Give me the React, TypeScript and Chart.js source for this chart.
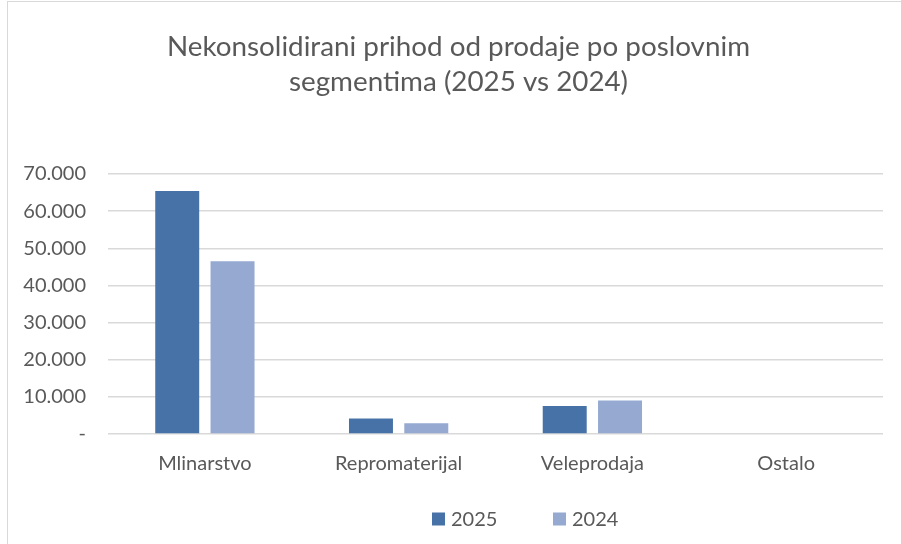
import React, { useEffect, useRef } from "react";
import { Chart, registerables } from "chart.js";

Chart.register(...registerables);

const categories = ["Mlinarstvo", "Repromaterijal", "Veleprodaja", "Ostalo"];
const series2025 = [65400, 4200, 7550, 0];
const series2024 = [46500, 2900, 9000, 0];
const seriesLabels = ["2025", "2024"];
const titleLines = ["Nekonsolidirani prihod od prodaje po poslovnim", "segmentima (2025 vs 2024)"];
const yTicks = [0, 10000, 20000, 30000, 40000, 50000, 60000, 70000];

const COLOR_2025 = "#4672A8";
const COLOR_2024 = "#95A9D1";
const TEXT = "#595959";
const FONT = "Lato, 'Open Sans', sans-serif";

function fmt(v: number): string {
  if (v === 0) return "-";
  return Math.round(v).toString().replace(/\B(?=(\d{3})+(?!\d))/g, ".");
}

const titlePlugin = {
  id: "customTitle",
  afterDraw(chart: any) {
    const ctx = chart.ctx;
    ctx.save();
    ctx.font = `27.8px ${FONT}`;
    ctx.textAlign = "center";
    ctx.textBaseline = "middle";
    ctx.fillStyle = TEXT;
    const cx = (16 + chart.width) / 2;
    titleLines.forEach((line, i) => ctx.fillText(line, cx, 47 + i * 35));
    ctx.restore();
  },
};

const legendPlugin = {
  id: "customLegend",
  afterDraw(chart: any) {
    const ctx = chart.ctx;
    const area = chart.chartArea;
    const ds = chart.data.datasets;
    ctx.save();
    ctx.font = `20px ${FONT}`;
    ctx.textBaseline = "middle";
    ctx.fillStyle = TEXT;
    const box = 13;
    const y = 519;
    let x = area.left + 324;
    ds.forEach((d: any) => {
      ctx.fillStyle = d.backgroundColor;
      ctx.fillRect(x, y - box / 2, box, box);
      ctx.fillStyle = TEXT;
      ctx.fillText(d.label, x + box + 6, y + 1);
      x += 121;
    });
    ctx.restore();
  },
};

export default function App() {
  const ref = useRef<HTMLCanvasElement | null>(null);
  useEffect(() => {
    if (!ref.current) return;
    const chart = new Chart(ref.current, {
      type: "bar",
      data: {
        labels: categories,
        datasets: [
          { label: seriesLabels[0], data: series2025, backgroundColor: COLOR_2025, barPercentage: 0.795, categoryPercentage: 0.571 },
          { label: seriesLabels[1], data: series2024, backgroundColor: COLOR_2024, barPercentage: 0.795, categoryPercentage: 0.571 },
        ],
      },
      plugins: [titlePlugin, legendPlugin],
      options: {
        animation: false,
        responsive: false,
        maintainAspectRatio: false,
        layout: { padding: { left: 16, right: 18, top: 174, bottom: 50 } },
        plugins: {
          legend: { display: false },
          tooltip: { enabled: false },
          title: { display: false },
        },
        scales: {
          x: {
            grid: { display: false, drawTicks: false },
            border: { display: false },
            ticks: { color: TEXT, font: { family: FONT, size: 20 }, padding: 18 },
          },
          y: {
            min: 0,
            max: 70000,
            afterFit(scale: any) { scale.width = 92; },
            afterBuildTicks(scale: any) { scale.ticks = yTicks.map((v) => ({ value: v })); },
            grid: { color: "#D9D9D9", lineWidth: 1.5, drawTicks: false },
            border: { display: false },
            ticks: { color: TEXT, font: { family: FONT, size: 20 }, padding: 22, callback: (v: any) => fmt(Number(v)) },
          },
        },
      },
    });
    return () => chart.destroy();
  }, []);
  return (
    <div style={{ position: "absolute", left: 0, top: 0, width: 901, height: 544, overflow: "hidden", background: "#fff" }}>
      <canvas ref={ref} width={901} height={544} style={{ position: "absolute", left: 0, top: 0 }} />
      <div style={{ position: "absolute", left: 7, top: 1, width: 1200, height: 1200, border: "1.5px solid #D9D9D9", pointerEvents: "none" }} />
    </div>
  );
}
